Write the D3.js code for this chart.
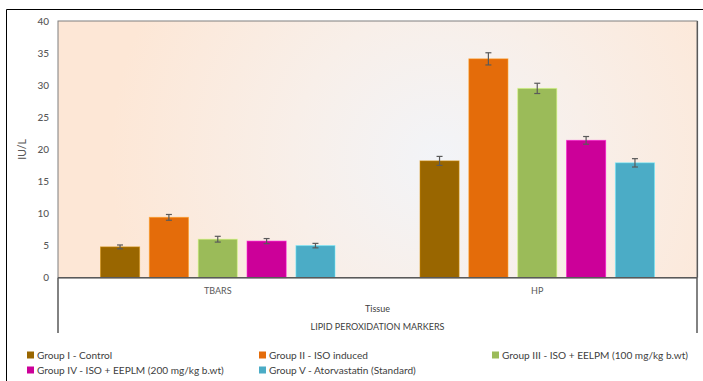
<!DOCTYPE html>
<html>
<head>
<meta charset="utf-8">
<script src="https://cdn.jsdelivr.net/npm/d3@7"></script>
<style>
  html, body { margin: 0; padding: 0; background: #ffffff; }
  svg { display: block; font-family: "Lato", "Open Sans", sans-serif; }
</style>
</head>
<body>
<svg id="chart" width="703" height="381"></svg>
<script>
// Lipid peroxidation markers by treatment group (mean ± error)
const tissues = ["TBARS", "HP"];
const groups = [
  "Group I - Control",
  "Group II - ISO induced",
  "Group III - ISO + EELPM (100 mg/kg b.wt)",
  "Group IV - ISO + EEPLM (200 mg/kg b.wt)",
  "Group V - Atorvastatin (Standard)"
];
const groupColors = ["#996600", "#e46c0a", "#9bbb59", "#cc0099", "#4bacc6"];
const tbarsValues = [4.8, 9.4, 6.0, 5.7, 5.0];
const tbarsErrors = [0.3, 0.45, 0.45, 0.4, 0.35];
const hpValues = [18.2, 34.1, 29.5, 21.4, 17.9];
const hpErrors = [0.7, 0.95, 0.8, 0.6, 0.65];
const yTicks = [0, 5, 10, 15, 20, 25, 30, 35, 40];

const valuesByTissue = { TBARS: tbarsValues, HP: hpValues };
const errorsByTissue = { TBARS: tbarsErrors, HP: hpErrors };

const svg = d3.select("#chart");
const plot = { left: 58, top: 21, right: 697, bottom: 277.7 };

// chart frame
svg.append("line").attr("x1", 6.5).attr("x2", 703).attr("y1", 9.5).attr("y2", 9.5)
  .attr("stroke", "#000").attr("stroke-width", 1);
svg.append("line").attr("x1", 6.5).attr("x2", 6.5).attr("y1", 9.5).attr("y2", 381)
  .attr("stroke", "#000").attr("stroke-width", 1);

// plot area background
const defs = svg.append("defs");
const grad = defs.append("radialGradient").attr("id", "plotBg")
  .attr("gradientUnits", "userSpaceOnUse")
  .attr("cx", 440).attr("cy", 160).attr("r", 330);
grad.append("stop").attr("offset", "0").attr("stop-color", "#f2f4f8");
grad.append("stop").attr("offset", "0.45").attr("stop-color", "#f8efe9");
grad.append("stop").attr("offset", "1").attr("stop-color", "#fde7d6");

svg.append("rect")
  .attr("x", plot.left).attr("y", plot.top)
  .attr("width", plot.right - plot.left).attr("height", plot.bottom - plot.top)
  .attr("fill", "url(#plotBg)")
  .attr("stroke", "#7f7f7f").attr("stroke-width", 1);
// soft shadow on the right edge
svg.append("line").attr("x1", plot.right + 0.5).attr("x2", plot.right + 0.5)
  .attr("y1", plot.top).attr("y2", plot.bottom)
  .attr("stroke", "#595959").attr("stroke-width", 1.2);

const x0 = d3.scaleBand().domain(tissues).range([plot.left, plot.right]).paddingInner(0).paddingOuter(0);
const x1 = d3.scaleBand().domain(d3.range(groups.length))
  .range([42.5, x0.bandwidth() - 42.5]).paddingInner(0.2).paddingOuter(0);
const y = d3.scaleLinear().domain([0, 40]).range([plot.bottom, plot.top]);

// bars
tissues.forEach(t => {
  const g = svg.append("g").attr("transform", `translate(${x0(t)},0)`);
  groups.forEach((name, i) => {
    const v = valuesByTissue[t][i];
    g.append("rect")
      .attr("x", x1(i)).attr("y", y(v))
      .attr("width", x1.bandwidth()).attr("height", y(0) - y(v))
      .attr("fill", groupColors[i])
      .attr("stroke", d3.color(groupColors[i]).brighter(0.9))
      .attr("stroke-opacity", 0.55).attr("stroke-width", 1);
  });
  // error bars
  groups.forEach((name, i) => {
    const v = valuesByTissue[t][i], e = errorsByTissue[t][i];
    const cx = x1(i) + x1.bandwidth() / 2;
    const eg = g.append("g").attr("stroke", "#5a5a5a").attr("stroke-width", 1.2);
    eg.append("line").attr("x1", cx).attr("x2", cx).attr("y1", y(v + e)).attr("y2", y(v - e));
    eg.append("line").attr("x1", cx - 3).attr("x2", cx + 3).attr("y1", y(v + e)).attr("y2", y(v + e));
    eg.append("line").attr("x1", cx - 3).attr("x2", cx + 3).attr("y1", y(v - e)).attr("y2", y(v - e));
  });
});

// baseline
svg.append("line").attr("x1", plot.left).attr("x2", plot.right)
  .attr("y1", y(0)).attr("y2", y(0))
  .attr("stroke", "#595959").attr("stroke-width", 1.5);

// y axis labels
const yAxis = d3.axisLeft(y).tickValues(yTicks).tickSize(0).tickPadding(9);
const ya = svg.append("g").attr("transform", `translate(${plot.left},0)`).call(yAxis);
ya.select(".domain").remove();
ya.selectAll("text").attr("fill", "#595959").style("font-size", "10px")
  .style("font-family", "Lato, sans-serif").style("font-weight", "500");

svg.append("text")
  .attr("transform", `translate(26,${(plot.top + plot.bottom) / 2}) rotate(-90)`)
  .attr("text-anchor", "middle").attr("fill", "#595959")
  .style("font-size", "10.5px").text("IU/L");

// category axis (two levels)
const xAxis = d3.axisBottom(x0).tickSize(0).tickPadding(10);
const xa = svg.append("g").attr("transform", `translate(0,${plot.bottom})`).call(xAxis);
xa.select(".domain").remove();
xa.selectAll("text").attr("fill", "#595959").style("font-size", "9px")
  .style("font-family", "Lato, sans-serif");

[plot.left, plot.right].forEach(px => {
  svg.append("line").attr("x1", px).attr("x2", px)
    .attr("y1", plot.bottom).attr("y2", 333)
    .attr("stroke", "#595959").attr("stroke-width", 1.5);
});

const midX = (plot.left + plot.right) / 2;
svg.append("text").attr("x", midX).attr("y", 312).attr("text-anchor", "middle")
  .attr("fill", "#404040").style("font-size", "9px").text("Tissue");
svg.append("text").attr("x", midX).attr("y", 330).attr("text-anchor", "middle")
  .attr("fill", "#404040").style("font-size", "9px").text("LIPID PEROXIDATION MARKERS");

// legend
const legendPos = [[27, 355], [259, 355], [492, 355], [27, 370], [259, 370]];
groups.forEach((name, i) => {
  const [lx, ly] = legendPos[i];
  const lg = svg.append("g").attr("transform", `translate(${lx},${ly})`);
  lg.append("rect").attr("x", 0).attr("y", -3.5).attr("width", 7).attr("height", 7)
    .attr("fill", groupColors[i]);
  lg.append("text").attr("x", 10).attr("y", 0).attr("dy", "0.35em")
    .attr("fill", "#404040").style("font-size", "10.1px").text(name);
});
</script>
</body>
</html>
